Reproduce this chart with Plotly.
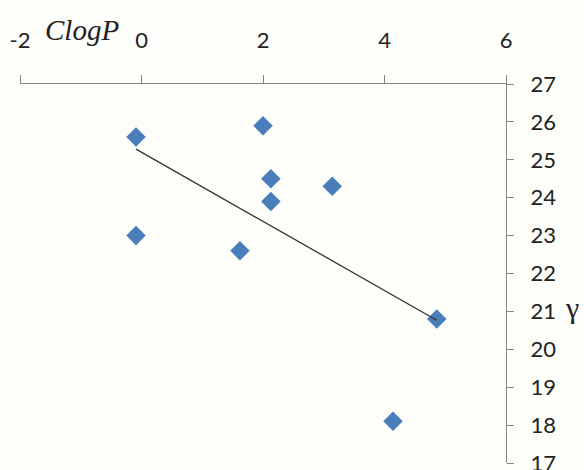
import numpy as np
import plotly.graph_objects as go

# ClogP vs gamma measurements
clogp = [-0.09, 2.0, 2.13, 2.13, 3.14, -0.09, 1.62, 4.86, 4.14]
gamma = [25.6, 25.9, 24.5, 23.9, 24.3, 23.0, 22.6, 20.8, 18.1]

x_ticks = [-2, 0, 2, 4, 6]
x_labels = ["-2", "0", "2", "4", "6"]
y_ticks = list(range(17, 28))

# least-squares trend line across the data's x span
slope, intercept = np.polyfit(clogp, gamma, 1)
trend_x = [min(clogp), max(clogp)]
trend_y = [slope * v + intercept for v in trend_x]

bg = "#fdfdf9"
axis_col = "#868686"
tick_font = dict(family="Lato, Noto Sans, sans-serif", size=22, color="#222222")

fig = go.Figure()
fig.add_trace(go.Scatter(
    x=clogp, y=gamma, mode="markers",
    marker=dict(symbol="diamond", size=15, color="#4a7ebb", line=dict(width=0)),
    showlegend=False,
))
fig.add_trace(go.Scatter(
    x=trend_x, y=trend_y, mode="lines",
    line=dict(color="#333333", width=1.3),
    showlegend=False,
))

fig.update_layout(
    width=584, height=470,
    margin=dict(l=20, r=78, t=84, b=7),
    paper_bgcolor=bg, plot_bgcolor=bg,
    xaxis=dict(
        range=[-2, 6], side="top", tickvals=x_ticks, ticktext=x_labels,
        showgrid=False, zeroline=False, automargin=False,
        showline=True, linecolor=axis_col, linewidth=1,
        ticks="outside", ticklen=8, tickcolor=axis_col, tickwidth=1,
        tickfont=tick_font, ticklabelstandoff=18,
        ticklabeloverflow="allow",
    ),
    yaxis=dict(
        range=[17, 27], side="right", tickvals=y_ticks,
        showgrid=False, zeroline=False, automargin=False,
        showline=True, linecolor=axis_col, linewidth=1,
        ticks="outside", ticklen=7, tickcolor=axis_col, tickwidth=1,
        tickfont=tick_font, ticklabelstandoff=12,
        ticklabeloverflow="allow",
    ),
    annotations=[
        dict(text="<i>ClogP</i>", xref="paper", yref="paper",
             x=(82 - 20) / 486, y=1.0, yshift=54, xanchor="center", yanchor="middle",
             showarrow=False,
             font=dict(family="Liberation Serif, serif", size=29, color="#222222")),
        dict(text="γ", xref="paper", yref="y",
             x=1.0, y=21.1, xshift=66, xanchor="center", yanchor="middle",
             showarrow=False,
             font=dict(family="Liberation Serif, serif", size=30, color="#222222")),
    ],
)

fig.write_html("out.html")
